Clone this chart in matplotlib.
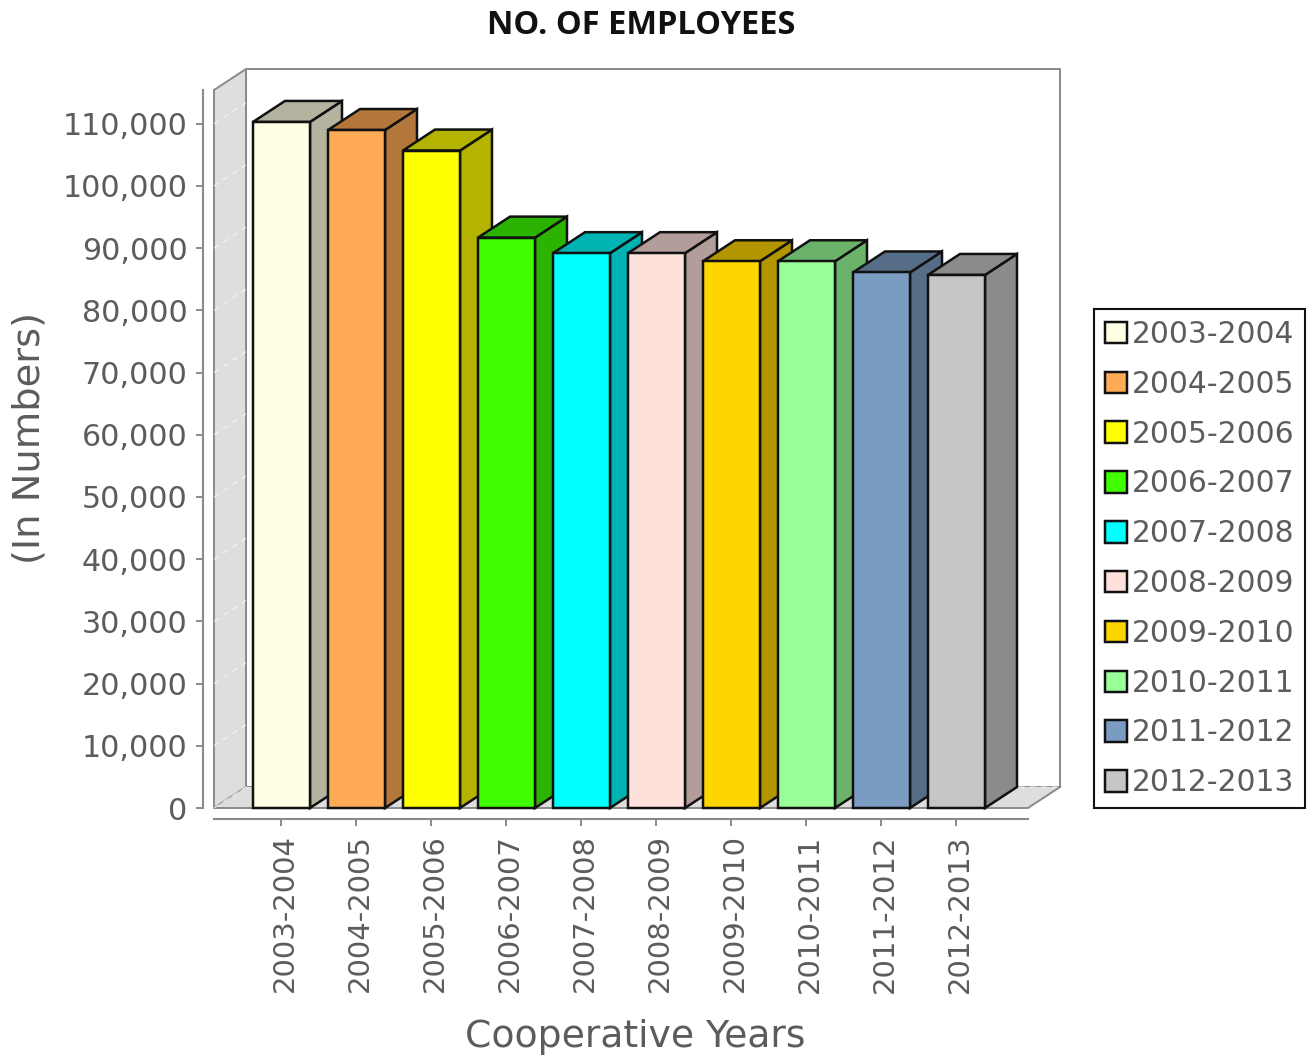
import matplotlib
matplotlib.use("Agg")
import matplotlib.pyplot as plt
from matplotlib.patches import Polygon, Patch
from matplotlib.ticker import FuncFormatter, MultipleLocator
from matplotlib.transforms import ScaledTranslation

years = ["2003-2004", "2004-2005", "2005-2006", "2006-2007", "2007-2008",
         "2008-2009", "2009-2010", "2010-2011", "2011-2012", "2012-2013"]
employees = [110300, 109000, 105700, 91700, 89200, 89200, 87900, 87900, 86100, 85700]
colors = ["#FFFFE3", "#FFAA55", "#FFFF00", "#3FFF00", "#00FFFF",
          "#FFE1DC", "#FFD500", "#99FF99", "#7B9CC2", "#C6C6C6"]
title = "NO. OF EMPLOYEES"
xlabel = "Cooperative Years"
ylabel = "(In Numbers)"

W, H = 1310, 1059
TEXT = "#5c5c5c"
AXIS = "#8a8a8a"
lw = 0.72 * 2.5


def darker(c, f=0.7):
    r, g, b = matplotlib.colors.to_rgb(c)
    return (r * f, g * f, b * f)


fig = plt.figure(figsize=(W / 100, H / 100), dpi=100, facecolor="white")
L, R, T, B = 214, 1028, 90, 808
ax = fig.add_axes([L / W, 1 - B / H, (R - L) / W, (B - T) / H])
ax.set_facecolor("none")

pitch = 75.0
x0 = 281.5
xmin, xmax = (L - x0) / pitch, (R - x0) / pitch
ypx = 62.2 / 10000
ax.set_xlim(xmin, xmax)
ax.set_ylim(0, (B - T) / ypx)

dx, dy = 32 / pitch, 21 / ypx
bw = 57 / pitch
top = (B - T) / ypx
pos = list(range(len(years)))

# 3D frame: back wall, left wall, floor
ax.add_patch(Polygon([(xmin + dx, dy), (xmin + dx, top + dy), (xmax + dx, top + dy), (xmax + dx, dy)],
                     closed=True, fc="white", ec=AXIS, lw=1.4, clip_on=False, zorder=0.5))
ax.add_patch(Polygon([(xmin, 0), (xmin, top), (xmin + dx, top + dy), (xmin + dx, dy)],
                     closed=True, fc="#DEDEDE", ec=AXIS, lw=1.4, clip_on=False, zorder=0.6))
ax.add_patch(Polygon([(xmin, 0), (xmax, 0), (xmax + dx, dy), (xmin + dx, dy)],
                     closed=True, fc="#DEDEDE", ec="none", clip_on=False, zorder=0.7))
ax.plot([xmin, xmax, xmax + dx], [0, 0, dy], color=AXIS, lw=1.4, clip_on=False, zorder=0.8)
ax.plot([xmin, xmin + dx, xmax + dx], [0, dy, dy], color="white", lw=1.0, ls=(0, (4, 4)),
        alpha=0.6, clip_on=False, zorder=0.8)

# dashed gridlines on the left wall
for v in range(10000, 110001, 10000):
    ax.plot([xmin, xmin + dx], [v, v + dy], color="white", lw=1.0, ls=(0, (4, 4)),
            alpha=0.6, clip_on=False, zorder=0.8)

# bars
for i, (v, c) in enumerate(zip(employees, colors)):
    x1, x2 = i - bw / 2, i + bw / 2
    d = darker(c)
    ax.add_patch(Polygon([(x2, 0), (x2, v), (x2 + dx, v + dy), (x2 + dx, dy)], closed=True,
                         fc=d, ec="#111111", lw=lw, clip_on=False, zorder=2 + i * 0.01))
    ax.add_patch(Polygon([(x1, v), (x2, v), (x2 + dx, v + dy), (x1 + dx, v + dy)], closed=True,
                         fc=d, ec="#111111", lw=lw, clip_on=False, zorder=2 + i * 0.01))
    ax.bar(i, v, width=bw, color=c, edgecolor="#111111", linewidth=lw, zorder=3 + i * 0.01,
           clip_on=False)

# axes
for s in ("top", "right"):
    ax.spines[s].set_visible(False)
for s in ("left", "bottom"):
    ax.spines[s].set_position(("outward", 0.72 * 11))
    ax.spines[s].set_color(AXIS)
    ax.spines[s].set_linewidth(1.5)

ax.yaxis.set_major_locator(MultipleLocator(10000))
ax.yaxis.set_major_formatter(FuncFormatter(lambda v, p: f"{int(v):,}"))
ax.set_xticks(pos)
ax.set_xticklabels(years, rotation=90)
ax.tick_params(axis="y", length=5, width=1.4, color=AXIS, labelsize=21.7, labelcolor=TEXT, pad=6)
ax.tick_params(axis="x", length=5, width=1.4, color=AXIS, labelsize=21, labelcolor=TEXT, pad=6)
shift = ScaledTranslation(3.5 / 100, 0, fig.dpi_scale_trans)
for lab in ax.get_xticklabels():
    lab.set_transform(lab.get_transform() + shift)

ax.set_xlabel(xlabel, fontsize=27.2, color=TEXT)
ax.set_ylabel(ylabel, fontsize=27.6, color=TEXT)
ax.xaxis.set_label_coords(635 / W, 1 - 1037 / H, transform=fig.transFigure)
ax.yaxis.set_label_coords(30 / W, 1 - 438 / H, transform=fig.transFigure)
ax.xaxis.label.set_verticalalignment("center")
ax.yaxis.label.set_verticalalignment("center")

fig.text(641.5 / W, 1 - 25 / H, title, fontsize=23.5, fontweight="bold", color="#111111",
         ha="center", va="center", family="Open Sans")

handles = [Patch(fc=c, ec="#111111", lw=lw, label=y) for y, c in zip(years, colors)]
leg = fig.legend(handles=handles, loc="lower left",
                 bbox_to_anchor=(1094 / W, 1 - 808 / H, 211 / W, 499 / H),
                 borderaxespad=0, fontsize=21.4, labelcolor=TEXT, frameon=True, fancybox=False,
                 edgecolor="#111111", framealpha=1, handlelength=0.74, handleheight=0.74,
                 handletextpad=0.17, labelspacing=0.70, borderpad=0.36)
leg.get_frame().set_linewidth(1.5)

fig.savefig("out.png", dpi=100, facecolor="white")
